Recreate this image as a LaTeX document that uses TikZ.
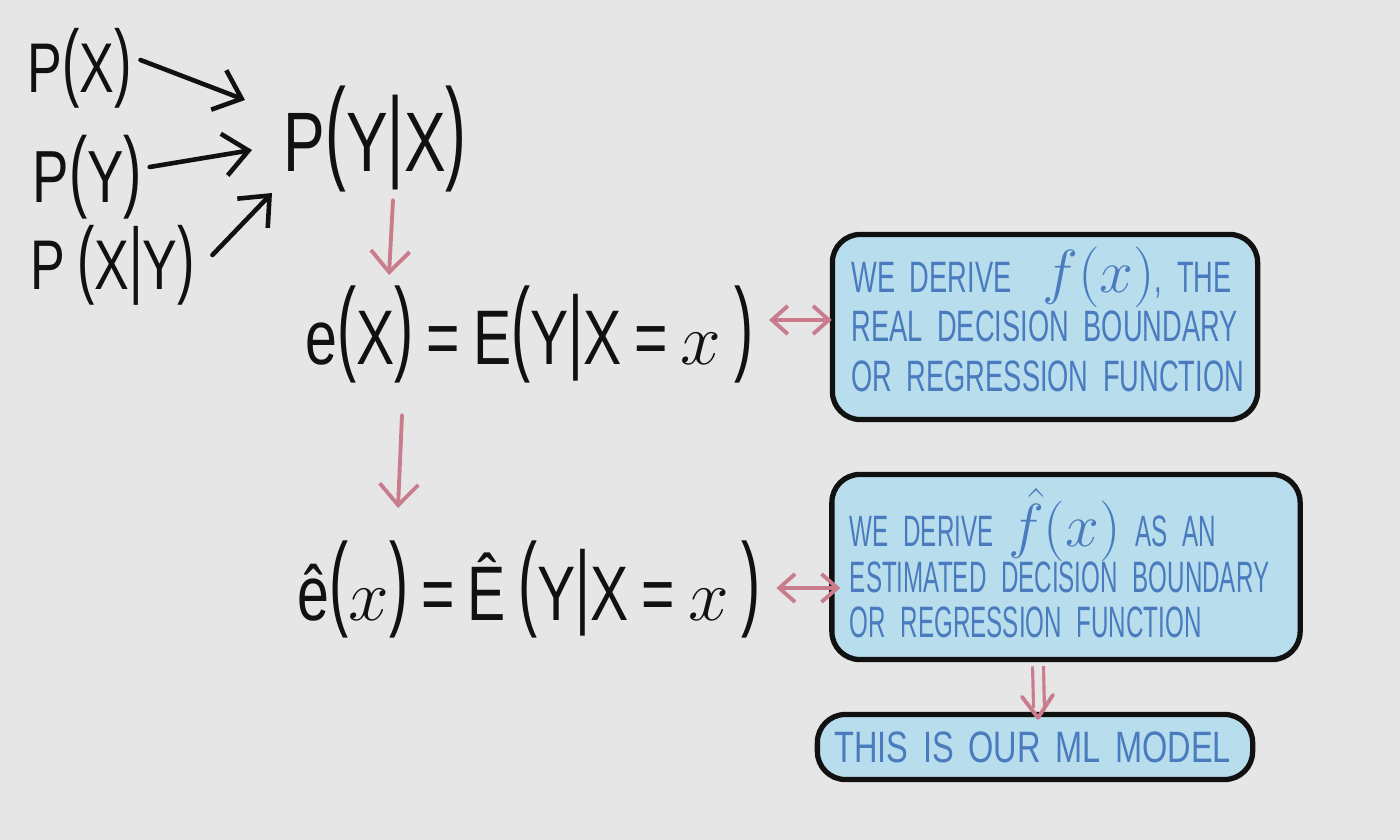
\documentclass[tikz,border=0pt]{standalone}
\usepackage{fontspec}
\setmainfont{Liberation Sans}
\newfontfamily\handfont[FakeStretch=0.74]{Liberation Sans}
\newfontfamily\boxfonta[FakeStretch=0.62]{Liberation Sans}
\newfontfamily\boxfontb[FakeStretch=0.55]{Liberation Sans}
\newfontfamily\wideboxfont[FakeStretch=0.74]{Liberation Sans}
\usetikzlibrary{arrows.meta}
\definecolor{bgc}{HTML}{E6E6E6}
\definecolor{boxfill}{HTML}{B8DDED}
\definecolor{inkblue}{HTML}{4A7BBE}
\definecolor{pinkc}{HTML}{C97D8C}
\definecolor{ink}{HTML}{111111}
\newcommand\lpar{\raisebox{0.04em}{\scalebox{1}[1.35]{(}}}
\newcommand\rpar{\raisebox{0.04em}{\scalebox{1}[1.35]{)}}}
\newcommand\slpar{\raisebox{0.04em}{\scalebox{1}[1.22]{(}}}
\newcommand\srpar{\raisebox{0.04em}{\scalebox{1}[1.22]{)}}}
\newcommand\vbar{\raisebox{0.04em}{\scalebox{1}[1.2]{|}}}
\begin{document}
\begin{tikzpicture}[x=0.01cm,y=-0.01cm,
  formula/.style={inner sep=0pt, anchor=base west, text=ink},
  blackarrow/.style={ink, line width=1.3pt, line cap=round, -{Straight Barb[length=7pt,width=12pt]}},
  pinkarrow/.style={pinkc, line width=1.1pt, line cap=round, -{Straight Barb[length=6pt,width=11pt]}},
  pinkdouble/.style={pinkc, line width=1.1pt, line cap=round, {Straight Barb[length=4.5pt,width=8pt]}-{Straight Barb[length=4.5pt,width=8pt]}},
  box/.style={draw=ink, line width=1.5pt, fill=boxfill, rounded corners=0.28cm, text=inkblue, align=left, inner ysep=0pt},
]
\fill[bgc] (0,0) rectangle (1400,840);
\useasboundingbox (0,0) rectangle (1400,840);

% formulas
\node[formula, font=\handfont\fontsize{20}{24}\selectfont] (px) at (27,93) {P\slpar X\srpar};
\node[formula, font=\handfont\fontsize{21}{26}\selectfont] (py) at (32,203) {P\slpar Y\srpar};
\node[formula, font=\handfont\fontsize{20}{24}\selectfont] (pxy) at (30,290) {P\,\slpar X\vbar Y\srpar};
\node[formula, font=\handfont\fontsize{24}{28}\selectfont] (pyx) at (283,172) {P\lpar Y\vbar X\rpar};
\node[formula, font=\handfont\fontsize{22}{26}\selectfont] (ex) at (305,365) {e\lpar X\rpar\,=\,E\lpar Y\vbar X\,=\,$x$\,\rpar};
\node[formula, font=\handfont\fontsize{22}{26}\selectfont] (ehx) at (297,620) {ê\lpar $x$\rpar\,=\,Ê\,\lpar Y\vbar X\,=\,$x$\,\rpar};

% boxes
\node[box, minimum width=4.25cm, minimum height=1.85cm, inner xsep=0.19cm, text width=3.87cm,
      font=\boxfonta\fontsize{12.5}{14}\selectfont] (box1) at (1045,327)
  {\mbox{WE DERIVE\hspace{0.7em}\raisebox{0pt}[0pt][0pt]{\fontsize{17}{17}\selectfont$f(x)$}, THE}\\
   \mbox{REAL DECISION BOUNDARY}\\
   \mbox{OR REGRESSION FUNCTION}};
\node[box, minimum width=4.68cm, minimum height=1.85cm, inner xsep=0.18cm, text width=4.32cm,
      font=\boxfontb\fontsize{12.5}{13}\selectfont] (box2) at (1066,567)
  {\mbox{\rule{0pt}{14.5pt}WE DERIVE \raisebox{0pt}[0pt][0pt]{\fontsize{18}{18}\selectfont$\hat f(x)$} AS AN}\\
   \mbox{ESTIMATED DECISION BOUNDARY}\\
   \mbox{OR REGRESSION FUNCTION}};
\node[box, minimum width=4.35cm, minimum height=0.65cm, inner xsep=0.17cm, text width=4.01cm,
      font=\wideboxfont\fontsize{12.5}{14}\selectfont] (box3) at (1035,747)
  {THIS IS OUR ML MODEL};

% black arrows
\draw[blackarrow] ([shift={(8,-33)}]px.base east) -- ([shift={(-38,-72)}]pyx.base west);
\draw[blackarrow] ([shift={(7,-36)}]py.base east) -- ([shift={(-31,-22)}]pyx.base west);
\draw[blackarrow] ([shift={(17,-35)}]pxy.base east) -- ([shift={(-11,21)}]pyx.base west);

% pink arrows
\draw[pinkarrow] ([shift={(110,28)}]pyx.base west) -- ([shift={(84,-90)}]ex.base west);
\draw[pinkarrow] ([shift={(97,50)}]ex.base west) -- ([shift={(101,-112)}]ehx.base west);
\draw[pinkdouble] ([shift={(15,-45)}]ex.base east) -- ([shift={(2,-7)}]box1.west);
\draw[pinkdouble] ([shift={(15,-32)}]ehx.base east) -- ([shift={(11,21)}]box2.west);

% double-line arrow to model
\draw[pinkc, line width=0.9pt, double=bgc, double distance=2.2pt] ([shift={(-28,4)}]box2.south) -- ([shift={(4,-4)}]box3.north);
\draw[pinkc, line width=1.1pt, line cap=round, line join=round] ([shift={(-13,-15)}]box3.north) -- ([shift={(3,6)}]box3.north) -- ([shift={(18,-17)}]box3.north);
\end{tikzpicture}
\end{document}
